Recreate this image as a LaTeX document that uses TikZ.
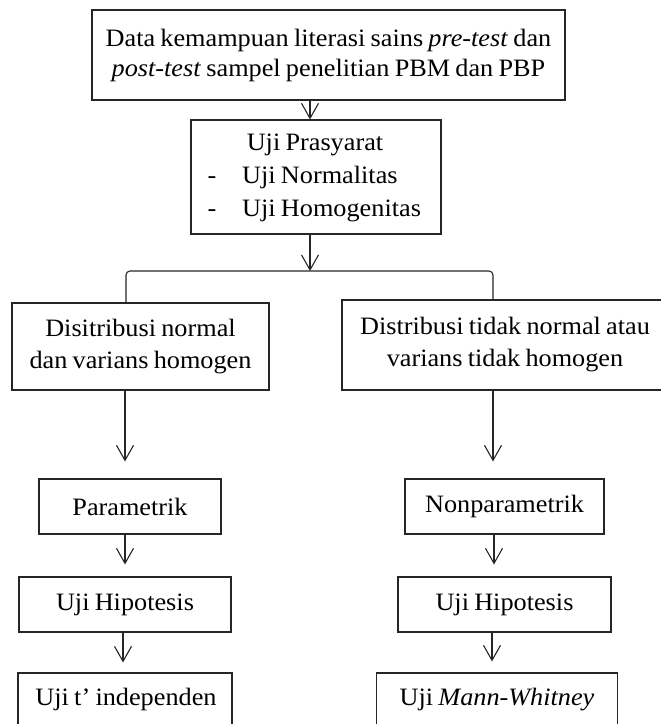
\documentclass[tikz,border=0pt]{standalone}
\usepackage{fontspec}
\setmainfont{Liberation Serif}[FakeStretch=1.05, WordSpace=0.8]
\usetikzlibrary{arrows.meta}
\begin{document}
\begin{tikzpicture}[x=1pt,y=-1pt,
  lw/.style={draw=black!85, line width=1.1pt},
  box/.style={lw, inner sep=0pt, align=center, font=\fontsize{25}{32}\selectfont},
  txt/.style={inner sep=0pt, font=\fontsize{25}{32}\selectfont},
  arr/.style={lw, -{Straight Barb[length=15pt,width=17pt]}}]
\useasboundingbox (0,0) rectangle (661,724);
\clip (0,0) rectangle (661,724);
% boxes
\node[box, minimum width=473pt, minimum height=90pt, font=\fontsize{25}{30}\selectfont] (top) at (328.5,55)
  {Data kemampuan literasi sains \textit{pre-test} dan\\\textit{post-test} sampel penelitian PBM dan PBP};
\node[box, minimum width=250pt, minimum height=114pt] (pra) at (316,177) {};
\node[txt, anchor=base] (pra1) at (315,150) {Uji Prasyarat};
\node[txt, anchor=base] (d1) at (212,183) {-};
\node[txt, anchor=base west] (pra2) at (242,183) {Uji Normalitas};
\node[txt, anchor=base] (d2) at (212,216) {-};
\node[txt, anchor=base west] (pra3) at (242,216) {Uji Homogenitas};
\node[box, minimum width=257pt, minimum height=87pt] (left) at (140.5,346.5)
  {Disitribusi normal\\dan varians homogen};
\node[box, minimum width=326pt, minimum height=90pt] (right) at (505,345)
  {Distribusi tidak normal atau\\varians tidak homogen};
\node[box, minimum width=182pt, minimum height=55pt] (param) at (130,506.5) {Parametrik};
\node[box, minimum width=199pt, minimum height=55pt] (nonp) at (504.5,506.5) {Nonparametrik};
\node[box, minimum width=212pt, minimum height=55pt] (hipL) at (125,604.5) {Uji Hipotesis};
\node[box, minimum width=213pt, minimum height=55pt] (hipR) at (504.5,604.5) {Uji Hipotesis};
\node[box, minimum width=214pt, minimum height=60pt, text depth=0pt] (tL) at (125,703) {};
\node[txt, anchor=base] (tLt) at (126,705) {Uji t’ independen};
\node[box, minimum width=241pt, minimum height=60pt] (mw) at (497,703) {};
\node[txt, anchor=base] (mwt) at (497,705) {Uji \textit{Mann-Whitney}};
% connectors
\coordinate (c1) at (310,0);
\coordinate (sp) at (310,271);
\coordinate (cl) at (126,0);
\coordinate (cr) at (493,0);
\coordinate (cl2) at (125,0);
\coordinate (cl3) at (123,0);
\coordinate (cr2) at (494,0);
\coordinate (cr3) at (492,0);
\draw[arr] (top.south -| c1) -- (pra.north -| c1);
\draw[arr] (pra.south -| c1) -- (sp);
\draw[lw, rounded corners=4pt] (left.north -| cl) |- (sp) -| (right.north -| cr);
\draw[arr, shorten >=17pt] (left.south -| cl2) -- (param.north -| cl2);
\draw[arr, shorten >=17pt] (right.south -| cr) -- (nonp.north -| cr);
\draw[arr, shorten >=12pt] (param.south -| cl2) -- (hipL.north -| cl2);
\draw[arr, shorten >=12pt] (nonp.south -| cr2) -- (hipR.north -| cr2);
\draw[arr, shorten >=10pt] (hipL.south -| cl3) -- (tL.north -| cl3);
\draw[arr, shorten >=11pt] (hipR.south -| cr3) -- (mw.north -| cr3);
\end{tikzpicture}
\end{document}
